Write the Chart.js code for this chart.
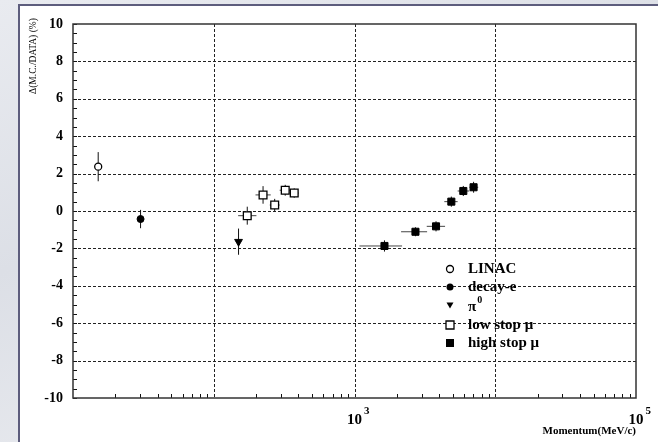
<!DOCTYPE html>
<html>
<head>
<meta charset="utf-8">
<script src="https://cdn.jsdelivr.net/npm/chart.js@4.4.1/dist/chart.umd.min.js"></script>
<style>
    html, body { margin: 0; padding: 0; }
    body { width: 658px; height: 442px; overflow: hidden; position: relative;
           background: linear-gradient(160deg, #e9ebf0 0%, #dcdfe6 40%, #e6e8ed 70%, #d9dce4 100%); }
    #panel { position: absolute; left: 18px; top: 4px; width: 680px; height: 480px;
             background: #fff; border: 2px solid #5d5d7d; box-sizing: border-box; }
    #wrap { position: absolute; left: 0; top: 0; width: 658px; height: 442px; }
</style>
</head>
<body>
<div id="panel"></div>
<div id="wrap"><canvas id="chart" width="658" height="442"></canvas></div>
<script>
// momentum (MeV/c) vs Delta(M.C./DATA) in %
const linacX = [15.1];
const linacY = [2.37];
const linacErrY = [0.78];

const decayX = [30.2];
const decayY = [-0.43];
const decayErrY = [0.49];

const pi0X = [150];
const pi0Y = [-1.64];
const pi0ErrY = [0.7];

const lowMuX = [173, 224, 271, 322, 373];
const lowMuY = [-0.25, 0.86, 0.32, 1.11, 0.96];
const lowMuErrY = [0.48, 0.47, 0.33, 0.29, 0.25];
const lowMuXLo = [149, 198, 250, 294, 350];
const lowMuXHi = [201, 254, 294, 350, 401];

const highMuX = [1633, 2711, 3795, 4875, 5930, 7015];
const highMuY = [-1.87, -1.11, -0.82, 0.50, 1.07, 1.27];
const highMuErrY = [0.30, 0.24, 0.27, 0.27, 0.27, 0.29];
const highMuXLo = [1084, 2143, 3260, 4347, 5405, 6546];
const highMuXHi = [2178, 3280, 4400, 5405, 6546, 7570];

const legendNames = ['LINAC', 'decay-e', 'π', 'low stop μ', 'high stop μ'];
const legendSups = ['', '', '0', '', ''];

const yMin = -10, yMax = 10, yStep = 2, yMinorStep = 0.5;
const xMin = 10, xMax = 1e5;
const xGridVals = [1e2, 1e3, 1e4];
const xLabelVals = [1e3, 1e5];
const xLabelExps = ['3', '5'];
const xTitle = 'Momentum(MeV/c)';
const yTitle = 'Δ(M.C./DATA) (%)';

const SERIF = '"Liberation Serif", "DejaVu Serif", serif';

function pts(xs, ys) { return xs.map((x, i) => ({ x: x, y: ys[i] })); }

function line(ctx, x1, y1, x2, y2) {
    ctx.beginPath(); ctx.moveTo(x1, y1); ctx.lineTo(x2, y2); ctx.stroke();
}

// grid, minor ticks and the box
const framePlugin = {
    id: 'frame',
    beforeDatasetsDraw(chart) {
        const ctx = chart.ctx, a = chart.chartArea;
        const xs = chart.scales.x, ys = chart.scales.y;
        ctx.save();
        ctx.strokeStyle = '#222';
        ctx.lineWidth = 1;
        ctx.setLineDash([3, 2]);
        for (let v = yMin + yStep; v < yMax; v += yStep) {
            const py = Math.round(ys.getPixelForValue(v)) + 0.5;
            line(ctx, a.left, py, a.right, py);
        }
        xGridVals.forEach(v => {
            const px = Math.round(xs.getPixelForValue(v)) + 0.5;
            line(ctx, px, a.top, px, a.bottom);
        });
        ctx.setLineDash([]);
        ctx.strokeStyle = '#111';
        // y minor ticks
        for (let v = yMin; v <= yMax; v += yMinorStep) {
            const py = Math.round(ys.getPixelForValue(v)) + 0.5;
            line(ctx, a.left, py, a.left + 4, py);
        }
        // x minor ticks
        for (let d = xMin; d < xMax; d *= 10) {
            for (let k = 2; k <= 9; k++) {
                const px = Math.round(xs.getPixelForValue(d * k)) + 0.5;
                line(ctx, px, a.bottom, px, a.bottom - 4);
            }
        }
        ctx.strokeStyle = '#333';
        ctx.lineWidth = 1.5;
        ctx.strokeRect(a.left, a.top, a.right - a.left, a.bottom - a.top);
        ctx.restore();
    }
};

const errorBarsPlugin = {
    id: 'errorBars',
    beforeDatasetsDraw(chart) {
        const ctx = chart.ctx, xs = chart.scales.x, ys = chart.scales.y;
        ctx.save();
        ctx.lineWidth = 1;
        chart.data.datasets.forEach(ds => {
            ds.data.forEach((p, i) => {
                const px = xs.getPixelForValue(p.x), py = ys.getPixelForValue(p.y);
                if (ds.errY) {
                    ctx.strokeStyle = '#111';
                    line(ctx, px, ys.getPixelForValue(p.y + ds.errY[i]), px, ys.getPixelForValue(p.y - ds.errY[i]));
                }
                if (ds.errXLo) {
                    ctx.strokeStyle = '#444';
                    line(ctx, xs.getPixelForValue(ds.errXLo[i]), py, xs.getPixelForValue(ds.errXHi[i]), py);
                }
            });
        });
        ctx.restore();
    }
};

function drawMarker(ctx, kind, x, y) {
    ctx.save();
    ctx.lineWidth = 1.3;
    ctx.strokeStyle = '#000';
    ctx.fillStyle = '#000';
    ctx.beginPath();
    if (kind === 0) { ctx.arc(x, y, 3.5, 0, Math.PI * 2); ctx.fillStyle = '#fff'; ctx.fill(); ctx.stroke(); }
    else if (kind === 1) { ctx.arc(x, y, 3.5, 0, Math.PI * 2); ctx.fill(); }
    else if (kind === 2) { ctx.moveTo(x - 3.5, y - 2.5); ctx.lineTo(x + 3.5, y - 2.5); ctx.lineTo(x, y + 3.5); ctx.closePath(); ctx.fill(); }
    else if (kind === 3) { ctx.rect(x - 4, y - 4, 8, 8); ctx.fillStyle = '#fff'; ctx.fill(); ctx.stroke(); }
    else { ctx.rect(x - 4, y - 4, 8, 8); ctx.fill(); }
    ctx.restore();
}

const labelsPlugin = {
    id: 'labels',
    afterDraw(chart) {
        const ctx = chart.ctx, a = chart.chartArea, xs = chart.scales.x;
        ctx.save();
        ctx.fillStyle = '#000';
        ctx.textBaseline = 'alphabetic';
        // x tick labels 10^n
        xLabelVals.forEach((v, i) => {
            const px = xs.getPixelForValue(v);
            ctx.font = 'bold 15px ' + SERIF;
            ctx.textAlign = 'center';
            ctx.fillText('10', px, a.bottom + 26);
            const w = ctx.measureText('10').width;
            ctx.font = 'bold 11px ' + SERIF;
            ctx.textAlign = 'left';
            ctx.fillText(xLabelExps[i], px + w / 2 + 2, a.bottom + 16);
        });
        // x title
        ctx.font = 'bold 11px ' + SERIF;
        ctx.textAlign = 'right';
        ctx.fillText(xTitle, a.right, a.bottom + 36);
        // y title
        ctx.save();
        ctx.translate(36, 56);
        ctx.rotate(-Math.PI / 2);
        ctx.font = '9.5px ' + SERIF;
        ctx.textAlign = 'center';
        ctx.fillText(yTitle, 0, 0);
        ctx.restore();
        // legend
        const lx = 450, tx = 468, rows = [269, 287, 305, 325, 343];
        legendNames.forEach((name, i) => {
            drawMarker(ctx, i, lx, rows[i]);
            ctx.font = 'bold 15px ' + SERIF;
            ctx.textAlign = 'left';
            ctx.textBaseline = 'middle';
            const ty = legendSups[i] ? rows[i] + 2 : rows[i];
            ctx.fillText(name, tx, ty);
            if (legendSups[i]) {
                const w = ctx.measureText(name).width;
                ctx.font = 'bold 10px ' + SERIF;
                ctx.fillText(legendSups[i], tx + w + 1, rows[i] - 5);
            }
        });
        ctx.restore();
    }
};

new Chart(document.getElementById('chart'), {
    type: 'scatter',
    data: {
        datasets: [
            { label: legendNames[0], data: pts(linacX, linacY), errY: linacErrY,
              pointStyle: 'circle', pointRadius: 3.5, pointBackgroundColor: '#fff',
              pointBorderColor: '#000', pointBorderWidth: 1.3 },
            { label: legendNames[1], data: pts(decayX, decayY), errY: decayErrY,
              pointStyle: 'circle', pointRadius: 3.5, pointBackgroundColor: '#000',
              pointBorderColor: '#000', pointBorderWidth: 1 },
            { label: legendNames[2], data: pts(pi0X, pi0Y), errY: pi0ErrY,
              pointStyle: 'triangle', pointRotation: 180, pointRadius: 4.5,
              pointBackgroundColor: '#000', pointBorderColor: '#000', pointBorderWidth: 1 },
            { label: legendNames[3], data: pts(lowMuX, lowMuY), errY: lowMuErrY,
              errXLo: lowMuXLo, errXHi: lowMuXHi,
              pointStyle: 'rect', pointRadius: 5.5, pointBackgroundColor: '#fff',
              pointBorderColor: '#000', pointBorderWidth: 1.3 },
            { label: legendNames[4], data: pts(highMuX, highMuY), errY: highMuErrY,
              errXLo: highMuXLo, errXHi: highMuXHi,
              pointStyle: 'rect', pointRadius: 5, pointBackgroundColor: '#000',
              pointBorderColor: '#000', pointBorderWidth: 1 }
        ]
    },
    options: {
        responsive: false,
        animation: false,
        events: [],
        layout: { padding: { left: 0, top: 24, right: 22, bottom: 0 } },
        plugins: { legend: { display: false }, tooltip: { enabled: false } },
        scales: {
            x: {
                type: 'logarithmic', min: xMin, max: xMax,
                grid: { display: false, drawTicks: false },
                border: { display: false },
                ticks: { display: false },
                afterFit: s => { s.height = 44; }
            },
            y: {
                min: yMin, max: yMax,
                grid: { display: false, drawTicks: false },
                border: { display: false },
                ticks: { stepSize: yStep, padding: 10, color: '#000',
                         font: { family: SERIF, size: 14, weight: 'bold' },
                         callback: v => String(v) },
                afterFit: s => { s.width = 73; }
            }
        }
    },
    plugins: [framePlugin, errorBarsPlugin, labelsPlugin]
});
</script>
</body>
</html>
